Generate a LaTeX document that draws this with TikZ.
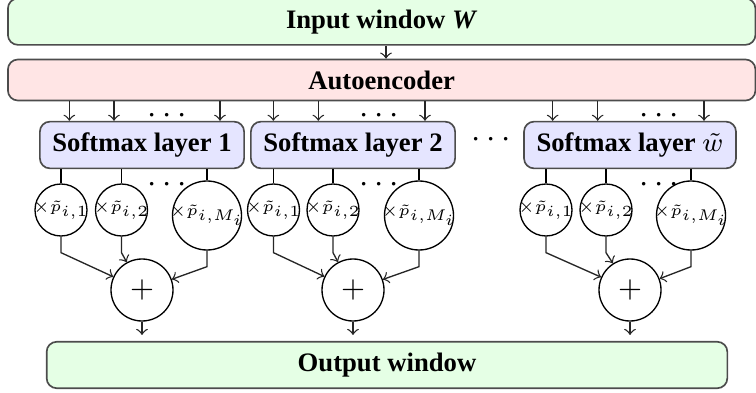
\documentclass[tikz,border=0pt]{standalone}
\usepackage[no-math]{fontspec}
\setmainfont{Liberation Serif}
\newcommand{\wlabel}[1]{\makebox[0pt]{\scalebox{0.93}{$\times\tilde{p}_{i,#1}$}}}
\begin{document}
\begin{tikzpicture}[
  x=1pt, y=1pt,
  font=\fontsize{8}{9.6}\selectfont\bfseries,
  node distance=63.3pt,
  winbox/.style={rectangle, rounded corners=3pt, draw=black!70, line width=0.5pt, fill=green!10, minimum height=12.9pt},
  aebox/.style={winbox, fill=red!10, minimum height=12pt},
  smbox/.style={winbox, fill=blue!10, minimum height=13.1pt, inner xsep=3.75pt},
  mulnode/.style={circle, draw, inner sep=0pt, minimum size=15.6pt, font=\tiny},
  bigmulnode/.style={mulnode, minimum size=20.7pt},
  sumnode/.style={circle, draw, inner sep=0pt, minimum size=18.6pt, font=\fontsize{9}{10}\selectfont},
  dots/.style={inner sep=0pt, font=\fontsize{10}{12}\selectfont},
  arrow/.style={->, black!85}
]
\useasboundingbox (0,0) rectangle (226.8,-117.6);

% Input and autoencoder
\node[winbox, minimum width=224.25pt] (inwin) at (114.5,-6.5) {Input window \textit{W}};
\node[aebox, minimum width=224.25pt] (ae) at (114.5,-24) {Autoencoder};
\draw[arrow] ([xshift=1.3pt]inwin.south) -- ([xshift=1.3pt]ae.north);

% Softmax layers
\node[smbox] (sm1) at (42.6,-43.5) {Softmax layer 1};
\node[smbox, right of=sm1] (sm2) {Softmax layer 2};
\node[smbox, right of=sm2, node distance=83.1pt] (sm3) {Softmax layer $\tilde{w}$};
\node[dots] at (147.3,-42.1) {$\cdots$};

% Output
\node[winbox, minimum width=204.2pt] (outwin) at (116.1,-109.5) {Output window};

\foreach \s/\ca/\cb/\cc/\aa/\ab/\ac/\dx in {
  1/-24.3/-6.15/19.5/-21.8/-8.4/23.4/7.5,
  2/-23.85/-6/19.8/-23.9/-10.4/21.6/7.8,
  3/-25.2/-7.2/18.3/-23.2/-9.7/22.2/8.7}{
  % inputs from the autoencoder
  \foreach \d in {\aa,\ab,\ac}
    \draw[arrow] ([xshift=\d pt]sm\s.north |- ae.south) -- ([xshift=\d pt]sm\s.north);
  \node[dots] at ([shift={(\dx,8.6)}]sm\s) {$\cdots$};
  % weights
  \node[mulnode] (ma\s) at ([shift={(\ca,-19.5)}]sm\s) {\wlabel{1}};
  \node[mulnode] (mb\s) at ([shift={(\cb,-19.5)}]sm\s) {\wlabel{2}};
  \node[bigmulnode] (mc\s) at ([shift={(\cc,-21.15)}]sm\s) {\wlabel{M_i}};
  \node[dots] at ([shift={(\dx,-12.1)}]sm\s) {$\cdots$};
  % sum
  \node[sumnode] (sum\s) at ([yshift=-43.5pt]sm\s) {$+$};
  \foreach \m in {ma,mb,mc}{
    \draw (\m\s.north |- sm\s.south) -- (\m\s.north);
    \draw[arrow] (\m\s.south) -- ++(0,-4.8) -- (sum\s);
  }
  \draw[arrow, shorten >=1.8pt] (sum\s) -- (sum\s |- outwin.north);
}
\end{tikzpicture}
\end{document}
